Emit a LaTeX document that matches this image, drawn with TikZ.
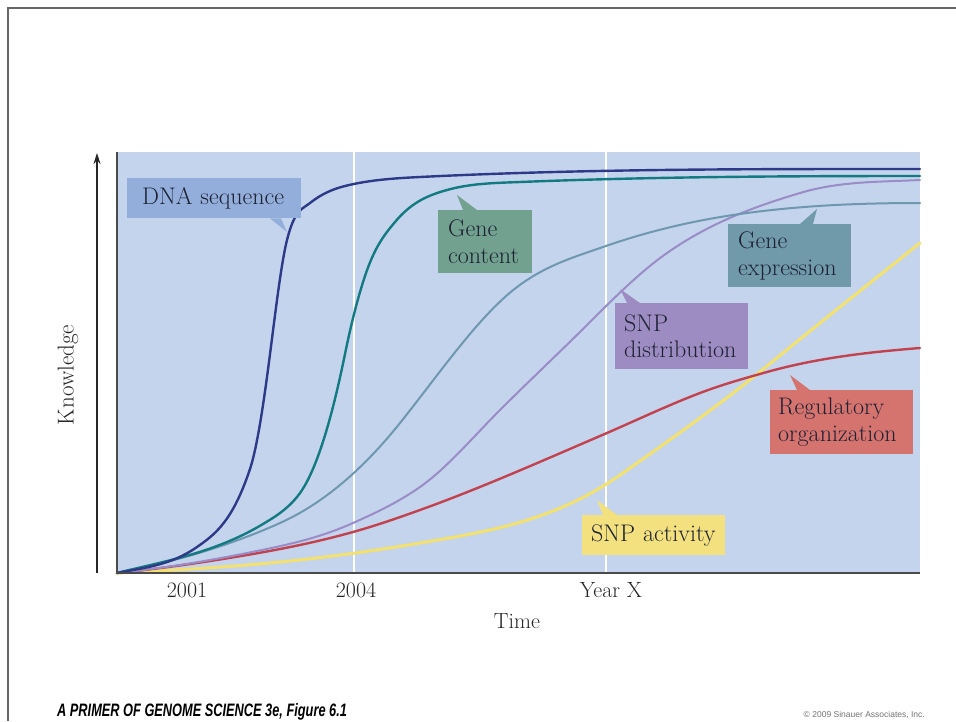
\documentclass[tikz,border=0pt]{standalone}
\usepackage{fontspec}
\newfontfamily\capfont{Liberation Sans}
\usetikzlibrary{arrows.meta}
\definecolor{plotbg}{HTML}{C4D4EC}
\definecolor{framecol}{HTML}{666666}
\definecolor{axiscol}{HTML}{4A4A4A}
\definecolor{dnacol}{HTML}{2C3A88}
\definecolor{contcol}{HTML}{137A82}
\definecolor{exprcol}{HTML}{6E97B0}
\definecolor{snpdcol}{HTML}{9A8CC6}
\definecolor{regcol}{HTML}{C2434F}
\definecolor{snpacol}{HTML}{F2E16E}
\definecolor{dnabox}{HTML}{93AEDB}
\definecolor{contbox}{HTML}{72A28F}
\definecolor{exprbox}{HTML}{7099AA}
\definecolor{snpdbox}{HTML}{9C8CC2}
\definecolor{regbox}{HTML}{D5736F}
\definecolor{snpabox}{HTML}{F3E07E}
\definecolor{labtext}{HTML}{1E2233}
\tikzset{
  curve/.style={line width=2.4pt, line cap=round, line join=round},
  labelbox/.style={anchor=north west, inner ysep=0pt, text=labtext,
    font=\fontsize{24}{27}\selectfont, align=left},
  ticklab/.style={anchor=base, font=\fontsize{22}{26}\selectfont, text=black!85},
}
\begin{document}
\begin{tikzpicture}[x=1pt,y=-1pt]
\useasboundingbox (0,0) rectangle (956,721);
\fill[white] (0,0) rectangle (956,721);
% frame
\draw[framecol, line width=1.5pt] (8,721) -- (8,8) -- (956,8);
% plot background
\fill[plotbg] (117,152) rectangle (920,573);
% white year lines
\draw[white, line width=2pt] (354,152) -- (354,573);
\draw[white, line width=2pt] (606,152) -- (606,573);
% curves
\coordinate (origin) at (117,573);
% SNP activity
\draw[curve, snpacol, line width=3pt] (origin)
  .. controls +(54.33,-2.7) and +(-54.33,5.43) .. (280,562)
  .. controls +(46.67,-4.67) and +(-46.67,7.93) .. (420,543)
  .. controls +(66.67,-11.33) and +(-66.67,46.67) .. (620,475)
  .. controls +(49,-34.3) and +(-49,40.2) .. (767,366)
  .. controls +(51,-41.8) and +(-51,40.8) .. (920,243);
% Regulatory organization
\draw[curve, regcol] (origin)
  .. controls +(43.33,-4.33) and +(-43.33,7.37) .. (247,555)
  .. controls +(35.33,-6) and +(-35.33,9.9) .. (353,532)
  .. controls +(22.33,-6.25) and +(-22.33,8.04) .. (420,510)
  .. controls +(60,-21.6) and +(-60,25.8) .. (600,436)
  .. controls +(33.33,-14.3) and +(-33.33,12.7) .. (700,393)
  .. controls +(22.33,-8.5) and +(-22.33,6.25) .. (767,372)
  .. controls +(51,-14.3) and +(-51,4.1) .. (920,348);
% SNP distribution
\draw[curve, snpdcol, line width=2pt] (origin)
  .. controls +(43.33,-4.33) and +(-43.33,8.67) .. (247,553)
  .. controls +(35.33,-7.07) and +(-35.33,15.9) .. (353,523)
  .. controls +(22.33,-10) and +(-22.33,15.6) .. (420,487)
  .. controls +(26.67,-18.7) and +(-26.67,26.67) .. (500,410)
  .. controls +(30,-30) and +(-30,30) .. (590,322)
  .. controls +(25.67,-25.67) and +(-25.67,18) .. (667,253)
  .. controls +(44.33,-31) and +(-44.33,13.3) .. (800,193)
  .. controls +(40,-12) and +(-40,2) .. (920,180);
% Gene expression
\draw[curve, exprcol, line width=2pt] (origin)
  .. controls +(54.33,-10.9) and +(-54.33,24.45) .. (280,523)
  .. controls +(40,-18) and +(-40,50) .. (400,423)
  .. controls +(35,-43.75) and +(-35,31.5) .. (505,297)
  .. controls +(32.67,-29.4) and +(-32.67,11.4) .. (603,247)
  .. controls +(43.33,-15.2) and +(-43.33,6.5) .. (733,215)
  .. controls +(62.33,-9.35) and +(-62.33,0) .. (920,203);
% Gene content
\draw[curve, contcol] (origin)
  .. controls +(48.67,-12.17) and +(-48.67,29.2) .. (263,524)
  .. controls +(11.33,-6.8) and +(-11.33,13.6) .. (297,497)
  .. controls +(16,-19.2) and +(-16,78.4) .. (345,354)
  .. controls +(6.67,-32.7) and +(-6.67,20) .. (365,276)
  .. controls +(10,-30) and +(-10,12) .. (395,222)
  .. controls +(17.33,-20.8) and +(-17.33,4.85) .. (447,190)
  .. controls +(24.33,-6.8) and +(-24.33,0.97) .. (520,182)
  .. controls +(133.3,-5.3) and +(-133.3,0) .. (920,176);
% DNA sequence
\draw[curve, dnacol] (origin)
  .. controls +(26.67,-5.33) and +(-26.67,18.67) .. (197,547)
  .. controls +(17.67,-12.37) and +(-17.67,53) .. (250,469)
  .. controls +(5.67,-17) and +(-5.67,42) .. (267,377)
  .. controls +(6.67,-49.3) and +(-6.67,26.7) .. (287,240)
  .. controls +(7.67,-30.7) and +(-7.67,6.1) .. (310,203)
  .. controls +(11.67,-9.3) and +(-11.67,2.9) .. (345,186)
  .. controls +(25,-6.25) and +(-25,1.25) .. (420,177)
  .. controls +(166.7,-8.3) and +(-166.7,0) .. (920,169);
% axes
\draw[axiscol, line width=2pt] (117,152) -- (117,573) -- (920,573);
\coordinate (ybot) at (97,573);
\coordinate (ytop) at (97,153);
\draw[black!85, line width=1.2pt, -{Stealth[length=11pt,width=7pt]}] (ybot) -- (ytop);
% label boxes
\node[labelbox, fill=dnabox, minimum width=174pt, minimum height=40pt, inner xsep=15pt, text width=144pt] (dna) at (127,178) {DNA sequence};
\coordinate (dnatip) at (287,232);
\fill[dnabox] ([xshift=143pt]dna.south west) -- (dnatip) -- ([xshift=154pt]dna.south west) -- cycle;

\node[labelbox, fill=contbox, minimum width=94pt, minimum height=63pt, inner xsep=10pt, text width=74pt] (cont) at (438,210) {Gene\\content};
\coordinate (conttip) at (457,195);
\fill[contbox] ([xshift=25pt]cont.north west) -- (conttip) -- ([xshift=39pt]cont.north west) -- cycle;

\node[labelbox, fill=exprbox, minimum width=123pt, minimum height=63pt, inner xsep=10pt, text width=103pt] (expr) at (728,224) {Gene\\expression};
\coordinate (exprtip) at (817,209);
\fill[exprbox] ([xshift=72pt]expr.north west) -- (exprtip) -- ([xshift=85pt]expr.north west) -- cycle;

\node[labelbox, fill=snpdbox, minimum width=133pt, minimum height=66pt, inner xsep=9pt, text width=115pt] (snpd) at (615,303) {SNP\\distribution};
\coordinate (snpdtip) at (620,289);
\fill[snpdbox] ([xshift=12pt]snpd.north west) -- (snpdtip) -- ([xshift=25pt]snpd.north west) -- cycle;

\node[labelbox, fill=regbox, minimum width=143pt, minimum height=64pt, inner xsep=8pt, text width=127pt] (reg) at (770,390) {Regulatory\\organization};
\coordinate (regtip) at (790,375);
\fill[regbox] ([xshift=27pt]reg.north west) -- (regtip) -- ([xshift=40pt]reg.north west) -- cycle;

\node[labelbox, fill=snpabox, minimum width=143pt, minimum height=40pt, inner xsep=9pt, text width=125pt] (snpa) at (582,515) {SNP activity};
\coordinate (snpatip) at (597,500);
\fill[snpabox] ([xshift=21pt]snpa.north west) -- (snpatip) -- ([xshift=35pt]snpa.north west) -- cycle;

% axis labels
\node[ticklab] (t2001) at (187,597) {2001};
\node[ticklab] (t2004) at (356,597) {2004};
\node[ticklab] (tyear) at (611,597) {Year X};
\node[ticklab] (time) at (517,628) {Time};
\node[ticklab, anchor=center, rotate=90, font=\fontsize{23}{27}\selectfont] (know) at (68,375) {Knowledge};
% caption
\node[anchor=base west, inner sep=0pt, font=\capfont\bfseries\itshape\fontsize{18}{20}\selectfont] (cap) at (57,716) {\scalebox{0.71}[1]{A PRIMER OF GENOME SCIENCE 3e,\ Figure 6.1}};
\node[anchor=base east, inner sep=0pt, text=black!55, font=\capfont\fontsize{8.5}{10}\selectfont] (copy) at (925,717) {\textcopyright\ 2009 Sinauer Associates, Inc.};
\end{tikzpicture}
\end{document}
